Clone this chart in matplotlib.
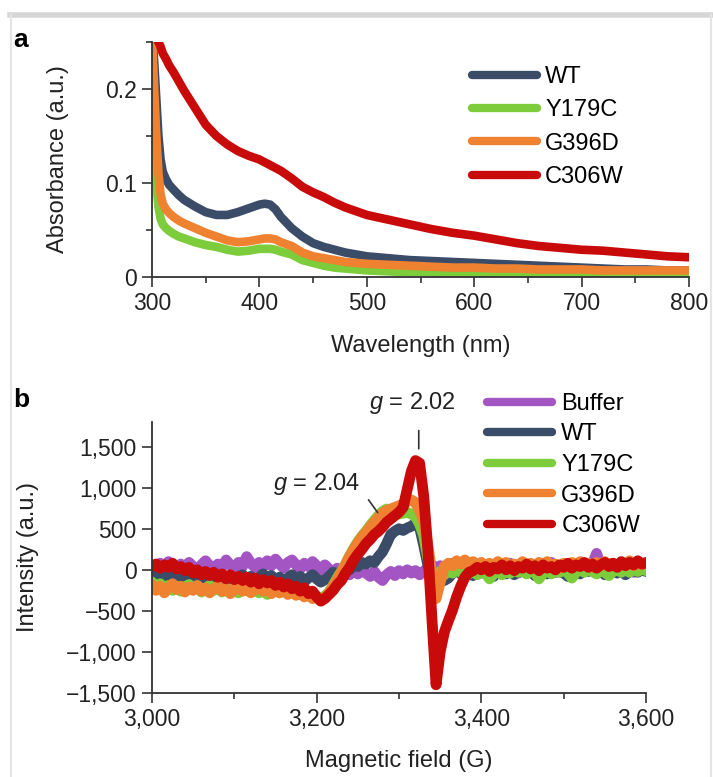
import numpy as np
import matplotlib
matplotlib.use("Agg")
import matplotlib.pyplot as plt
from matplotlib.lines import Line2D
from matplotlib.ticker import FuncFormatter, MultipleLocator

plt.rcParams['font.family'] = ['Liberation Sans', 'DejaVu Sans']
plt.rcParams['mathtext.fontset'] = 'custom'
plt.rcParams['mathtext.it'] = 'Liberation Sans:italic'
plt.rcParams['mathtext.rm'] = 'Liberation Sans'

# ---------------- Panel a: absorbance spectra ----------------
wavelength = [300, 302, 304, 306, 308, 310, 313, 316, 320, 325, 330, 340, 350, 360, 370,
              380, 390, 400, 405, 410, 415, 420, 430, 440, 450, 460, 470, 480, 490, 500,
              520, 540, 560, 580, 600, 620, 640, 660, 680, 700, 720, 740, 760, 780, 800]
abs_wt = [0.26, 0.23, 0.19, 0.15, 0.125, 0.112, 0.104, 0.098, 0.093, 0.087, 0.082, 0.075, 0.069,
          0.066, 0.066, 0.069, 0.073, 0.077, 0.078, 0.077, 0.072, 0.064, 0.052, 0.043, 0.036,
          0.032, 0.029, 0.026, 0.024, 0.022, 0.020, 0.018, 0.017, 0.016, 0.015, 0.014, 0.013,
          0.012, 0.011, 0.010, 0.009, 0.008, 0.008, 0.007, 0.007]
abs_y179c = [0.20, 0.14, 0.10, 0.075, 0.062, 0.056, 0.052, 0.049, 0.046, 0.043, 0.041, 0.037,
             0.034, 0.032, 0.029, 0.027, 0.028, 0.030, 0.030, 0.030, 0.029, 0.027, 0.024, 0.018,
             0.015, 0.012, 0.010, 0.009, 0.008, 0.007, 0.006, 0.005, 0.005, 0.004, 0.004, 0.004,
             0.003, 0.003, 0.003, 0.003, 0.003, 0.003, 0.003, 0.003, 0.003]
abs_g396d = [0.255, 0.20, 0.15, 0.11, 0.088, 0.078, 0.072, 0.068, 0.064, 0.060, 0.057, 0.052,
             0.047, 0.043, 0.039, 0.037, 0.038, 0.040, 0.041, 0.041, 0.040, 0.037, 0.033, 0.026,
             0.022, 0.020, 0.018, 0.016, 0.015, 0.014, 0.013, 0.012, 0.011, 0.010, 0.010, 0.009,
             0.009, 0.008, 0.008, 0.008, 0.007, 0.007, 0.007, 0.007, 0.007]
abs_c306w = [0.27, 0.262, 0.255, 0.25, 0.245, 0.238, 0.232, 0.225, 0.218, 0.208, 0.198, 0.180,
             0.162, 0.150, 0.141, 0.134, 0.129, 0.125, 0.122, 0.119, 0.116, 0.113, 0.105, 0.096,
             0.090, 0.085, 0.079, 0.074, 0.070, 0.066, 0.061, 0.056, 0.051, 0.047, 0.044, 0.040,
             0.036, 0.033, 0.031, 0.029, 0.028, 0.026, 0.024, 0.022, 0.021]

# ---------------- Panel b: EPR spectra ----------------
field = np.arange(3000, 3601, 5)
epr_buffer = [60, 20, 80, 40, 100, 50, 10, 70, 30, 90, 40, 0, 60, 110, 50, 10, 70, 30, 120, 60,
              20, 90, 40, 160, 80, 30, 90, 40, 110, 50, 130, 70, 20, 90, 120, 60, 10, 80, 40, 100,
              50, 0, 60, 10, -30, 20, -40, 10, -60, 0, -50, -10, -40, -80, -20, -90, -130, -60, -20, -70,
              -10, -50, 0, -40, -10, -60, -20, 30, 60, 10, 50, -10, 40, 80, 20, 60, -10, 50, 10, 70,
              20, -30, 40, 0, 60, -20, 30, 80, 10, -40, 20, 70, 0, 40, -20, 50, 10, 90, 30, -30,
              40, 0, 60, 20, -30, 50, 10, 70, 200, 40, 0, 60, -20, 30, 80, 10, 50, -30, 30, 0,
              40]
epr_wt = [-60, -110, -70, -130, -80, -40, -100, -60, -120, -80, -140, -90, -50, -110, -70, -130, -90, -60, -120, -80,
          -140, -100, -60, -120, -80, -130, -90, -50, -110, -70, -130, -90, -140, -100, -60, -120, -80, -140, -100, -60,
          -110, -150, -120, -80, -30, -60, -10, 30, 0, 60, 40, 90, 70, 110, 90, 160, 220, 320, 430, 470,
          500, 480, 510, 530, 570, 520, 300, 60, -60, -110, -90, -130, -100, -40, 0, -50, 30, -20, -70, 0,
          -40, 20, -30, -80, -20, 10, -50, 0, -60, -10, 30, -40, 0, -70, -20, 10, -50, 0, -30, 20,
          -40, -80, -30, 10, -50, 0, -20, 30, -40, 0, -60, -10, 20, -40, 0, -60, -20, 10, -30, 0,
          -20]
epr_y179c = [-150, -220, -170, -240, -190, -250, -200, -260, -210, -180, -240, -200, -270, -230, -190, -250, -210, -270, -230, -260,
             -220, -280, -240, -200, -260, -220, -280, -240, -300, -250, -220, -280, -240, -290, -250, -300, -270, -310, -290, -340,
             -320, -360, -320, -270, -190, -100, -20, 70, 170, 260, 340, 410, 470, 540, 600, 660, 710, 740, 730, 700,
             680, 690, 700, 680, 650, 560, 420, 150, -100, -80, -20, -60, 0, -40, 20, -30, 10, -50, 0, -60,
             -10, -40, -110, -50, -10, -60, -20, -40, 10, -30, -10, -50, 0, -30, -110, -40, 0, -50, -10, -30,
             10, -40, -100, -30, 10, -30, 20, -20, -50, 10, -30, -70, -20, 10, -30, 10, -30, 20, -20, 10,
             -10]
epr_g396d = [-180, -250, -200, -280, -220, -170, -240, -200, -270, -210, -250, -190, -260, -220, -280, -230, -200, -260, -220, -290,
             -240, -200, -260, -230, -280, -240, -210, -260, -230, -290, -250, -280, -240, -300, -260, -310, -280, -330, -300, -350,
             -330, -380, -340, -280, -200, -120, -30, 60, 160, 250, 330, 400, 460, 520, 580, 640, 690, 720, 740, 760,
             780, 800, 830, 850, 820, 720, 600, 300, -50, -350, -150, 40, 80, 50, 110, 70, 120, 60, 100, 40,
             90, 30, 80, 40, 100, 50, 90, 20, 70, 40, 100, 50, 80, 30, 90, 50, 100, 40, 70, 20,
             80, 40, 90, 50, 100, 60, 80, 30, 90, 50, 100, 60, 80, 40, 90, 60, 110, 50, 90, 60,
             80]
epr_c306w = [40, 70, 20, 60, 30, 80, 10, 40, -10, 30, -40, 0, -60, -20, -70, -30, -90, -50, -110, -60,
             -120, -80, -130, -90, -150, -100, -170, -120, -160, -130, -190, -150, -210, -170, -230, -200, -260, -220, -290, -260,
             -330, -380, -350, -300, -250, -180, -130, -40, 30, 120, 190, 250, 320, 370, 430, 470, 520, 580, 620, 660,
             700, 760, 980, 1200, 1330, 1300, 900, 250, -600, -1400, -1000, -760, -620, -490, -330, -200, -90, -30, -10, 30,
             0, 40, -20, 30, 10, 60, 0, 50, -10, 40, 20, 70, 10, 50, -10, 60, 20, 40, 0, 60,
             30, 80, 20, 60, 40, 90, 30, 70, 20, 60, 90, 40, 80, 30, 100, 50, 90, 60, 110, 70,
             90]

names_a = ['WT', 'Y179C', 'G396D', 'C306W']
names_b = ['Buffer', 'WT', 'Y179C', 'G396D', 'C306W']
colors = {'Buffer': '#a355c4', 'WT': '#3b4c69', 'Y179C': '#7dcc3c',
          'G396D': '#ef8231', 'C306W': '#c90a0a'}

W, H = 713, 777
fig = plt.figure(figsize=(W / 100, H / 100), dpi=100)

FS = 16.5
axcol = '#333333'


def style(ax):
    for s in ['top', 'right']:
        ax.spines[s].set_visible(False)
    for s in ['left', 'bottom']:
        ax.spines[s].set_linewidth(1.3)
        ax.spines[s].set_color(axcol)
    ax.tick_params(which='major', direction='out', length=7, width=1.2, colors=axcol,
                   labelsize=FS, labelcolor='#222222', pad=4)
    ax.tick_params(which='minor', direction='out', length=4, width=1.2, colors=axcol)


# panel a axes
axa = fig.add_axes([152 / W, 1 - 277 / H, (689 - 152) / W, (277 - 42) / H])
series_a = [abs_wt, abs_y179c, abs_g396d, abs_c306w]
for name, vals in zip(names_a, series_a):
    axa.plot(wavelength, vals, color=colors[name], lw=6.2, label=name,
             solid_capstyle='round', solid_joinstyle='round')
axa.set_xlim(300, 800)
axa.set_ylim(0, 0.25)
axa.set_xticks([300, 400, 500, 600, 700, 800])
axa.xaxis.set_minor_locator(MultipleLocator(50))
axa.set_yticks([0, 0.1, 0.2])
axa.set_yticklabels(['0', '0.1', '0.2'])
axa.yaxis.set_minor_locator(MultipleLocator(0.05))
style(axa)
axa.set_xlabel('Wavelength (nm)', fontsize=FS + 0.5, color='#222222')
axa.set_ylabel('Absorbance (a.u.)', fontsize=FS + 0.5, color='#222222')
axa.xaxis.set_label_coords(0.5, -0.245)
axa.yaxis.set_label_coords(-0.155, 0.5)
lega = axa.legend(loc='upper left', bbox_to_anchor=((472 - 152) / 537, (277 - 66) / 235),
                  frameon=False, fontsize=FS + 0.5, handlelength=2.75, handletextpad=0.35,
                  labelspacing=0.48, borderpad=0, borderaxespad=0)
for lh in lega.get_lines():
    lh.set_linewidth(6)
    lh.set_solid_capstyle('round')

# panel b axes
axb = fig.add_axes([152 / W, 1 - 693 / H, (646 - 152) / W, (693 - 422) / H])
series_b = [epr_buffer, epr_wt, epr_y179c, epr_g396d, epr_c306w]
for name, vals in zip(names_b, series_b):
    axb.plot(field, vals, color=colors[name], lw=7.8, label=name,
             solid_capstyle='round', solid_joinstyle='round')
axb.set_xlim(3000, 3600)
axb.set_ylim(-1500, 1800)
axb.set_xticks([3000, 3200, 3400, 3600])
axb.xaxis.set_minor_locator(MultipleLocator(100))
axb.set_yticks([-1500, -1000, -500, 0, 500, 1000, 1500])
fmt = FuncFormatter(lambda v, p: f"{v:,.0f}".replace('-', '\u2212'))
axb.xaxis.set_major_formatter(fmt)
axb.yaxis.set_major_formatter(fmt)
style(axb)
axb.set_xlabel('Magnetic field (G)', fontsize=FS + 0.5, color='#222222')
axb.set_ylabel('Intensity (a.u.)', fontsize=FS + 0.5, color='#222222')
axb.xaxis.set_label_coords(0.5, -0.21)
axb.yaxis.set_label_coords(-0.229, 0.5)
legb = axb.legend(loc='upper left', bbox_to_anchor=((487 - 152) / 494, (693 - 393) / 271),
                  frameon=False, fontsize=FS + 0.5, handlelength=2.75, handletextpad=0.4,
                  labelspacing=0.36, borderpad=0, borderaxespad=0)
for lh in legb.get_lines():
    lh.set_linewidth(6)
    lh.set_solid_capstyle('round')

# annotations
axb.text(3316, 2030, r'$g$ = 2.02', ha='center', va='center', fontsize=FS + 0.5,
         color='#222222', clip_on=False)
axb.annotate('', xy=(3324, 1440), xytext=(3324, 1730),
             arrowprops=dict(arrowstyle='-', lw=1.2, color='#333333'), annotation_clip=False)
axb.text(3200, 1040, r'$g$ = 2.04', ha='center', va='center', fontsize=FS + 0.5,
         color='#222222')
axb.annotate('', xy=(3276, 670), xytext=(3261, 880),
             arrowprops=dict(arrowstyle='-', lw=1.2, color='#333333'))

# panel letters
fig.text(13 / W, 1 - 47 / H, 'a', fontsize=19, fontweight='bold', va='baseline', ha='left')
fig.text(13 / W, 1 - 407 / H, 'b', fontsize=19, fontweight='bold', va='baseline', ha='left')

# page frame
fig.add_artist(Line2D([10 / W, 1], [1 - 15 / H, 1 - 15 / H], transform=fig.transFigure,
                      color='#d6d6d6', lw=4))
fig.add_artist(Line2D([10.5 / W, 10.5 / W], [0, 1 - 15 / H], transform=fig.transFigure,
                      color='#e4e4e4', lw=1.5))
fig.add_artist(Line2D([710.5 / W, 710.5 / W], [0, 1 - 15 / H], transform=fig.transFigure,
                      color='#e4e4e4', lw=1.5))

fig.savefig('out.png', dpi=100)
